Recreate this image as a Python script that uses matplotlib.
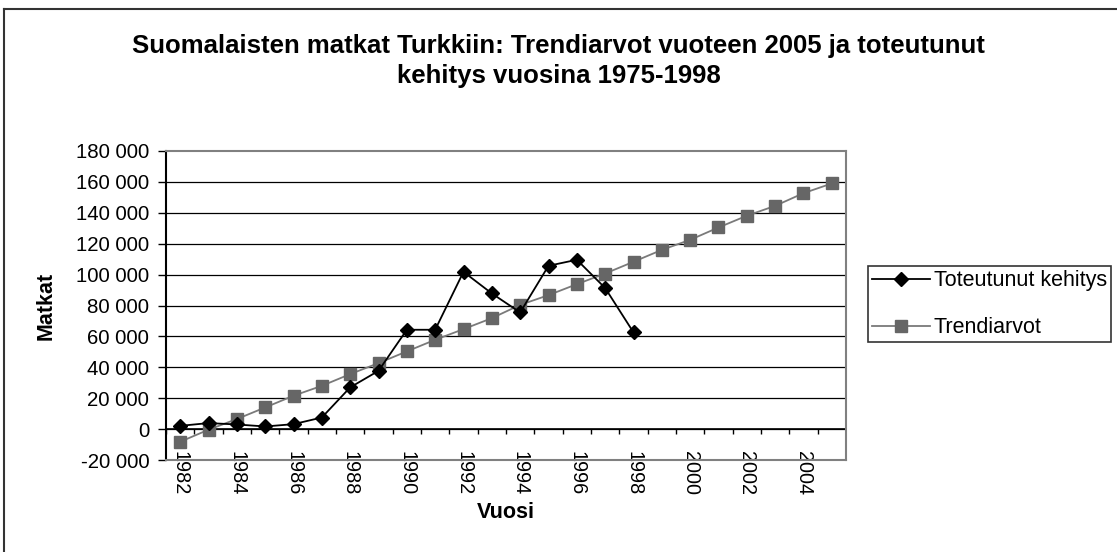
import matplotlib
matplotlib.use("Agg")
import matplotlib.pyplot as plt
from matplotlib.lines import Line2D
import numpy as np

plt.rcParams['font.family'] = ['Liberation Sans', 'DejaVu Sans']

years = list(range(1982, 2006))
actual = [2100, 3900, 3000, 1700, 3200, 7500, 27000, 37700, 64300, 64300,
          101800, 87800, 75500, 105700, 109600, 91300, 62600]
trend = [-8200, -400, 6500, 14000, 21600, 28000, 35600, 42700, 50300, 57800,
         64700, 71800, 80400, 86700, 93800, 100700, 108300, 116000, 122500,
         130500, 138100, 144500, 152700, 159000]
yticks = list(range(-20000, 180001, 20000))

W, H = 1117, 552
fig = plt.figure(figsize=(W / 100, H / 100), dpi=100)
ax = fig.add_axes([166 / W, 1 - 460 / H, (846 - 166) / W, (460 - 151) / H])

x_all = np.arange(len(years))
ax.plot(x_all[:len(actual)], actual, color='black', lw=1.3, marker='D',
        markersize=7.5, markerfacecolor='black', markeredgecolor='black',
        label='Toteutunut kehitys', zorder=4)
ax.plot(x_all, trend, color='#7a7a7a', lw=1.3, marker='s', markersize=8.5,
        markerfacecolor='#666666', markeredgecolor='#666666',
        label='Trendiarvot', zorder=3)

ax.set_xlim(-0.5, len(years) - 0.5)
ax.set_ylim(yticks[0], yticks[-1])
ax.set_yticks(yticks)
ax.set_yticklabels([f"{v:,}".replace(",", " ") for v in yticks], fontsize=14.7)
ax.tick_params(axis='y', length=6, width=1, color='black', pad=6)
for v in yticks[1:-1]:
    ax.axhline(v, color='black', lw=0.9, zorder=1)

xt = x_all[::2]
ax.set_xticks(xt)
ax.set_xticklabels([str(years[i]) for i in xt], rotation=270, fontsize=14.3)
ax.tick_params(axis='x', length=0, pad=-6.5)

# category axis at zero with tick marks between categories
ax.axhline(0, color='black', lw=1.2, zorder=2)
bounds = np.arange(len(years) + 1) - 0.5
ax.vlines(bounds, -3200, 0, color='black', lw=1, zorder=2)

for s in ['top', 'right', 'bottom']:
    ax.spines[s].set_color('#808080')
    ax.spines[s].set_linewidth(1.5)
ax.spines['left'].set_color('black')
ax.spines['left'].set_linewidth(1.5)

ax.set_ylabel('Matkat', fontsize=15.5, fontweight='bold', labelpad=14)
xl = ax.set_xlabel('Vuosi', fontsize=15.5, fontweight='bold', labelpad=0)
ax.xaxis.set_label_coords(0.5, -(512 - 460) / (460 - 151))
xl.set_verticalalignment('center')

fig.text(0.5, 1 - 61 / H,
         'Suomalaisten matkat Turkkiin: Trendiarvot vuoteen 2005 ja toteutunut\nkehitys vuosina 1975-1998',
         ha='center', va='center', fontsize=18.5, fontweight='bold',
         linespacing=1.3)

leg = fig.legend(loc='upper left', bbox_to_anchor=(868 / W, 1 - 266 / H),
                 fontsize=15.5, frameon=True, fancybox=False, edgecolor='black',
                 handlelength=2.7, borderpad=0.2, labelspacing=1.2,
                 handletextpad=0.15, borderaxespad=0)
leg.get_frame().set_linewidth(1.2)

# chart area border (left and top visible)
fig.add_artist(Line2D([3.5 / W, 3.5 / W], [0, 1 - 8.5 / H], transform=fig.transFigure,
                      color='#333333', lw=1.5))
fig.add_artist(Line2D([3.5 / W, 1], [1 - 8.5 / H, 1 - 8.5 / H], transform=fig.transFigure,
                      color='#333333', lw=1.5))

fig.savefig('out.png', dpi=100)
